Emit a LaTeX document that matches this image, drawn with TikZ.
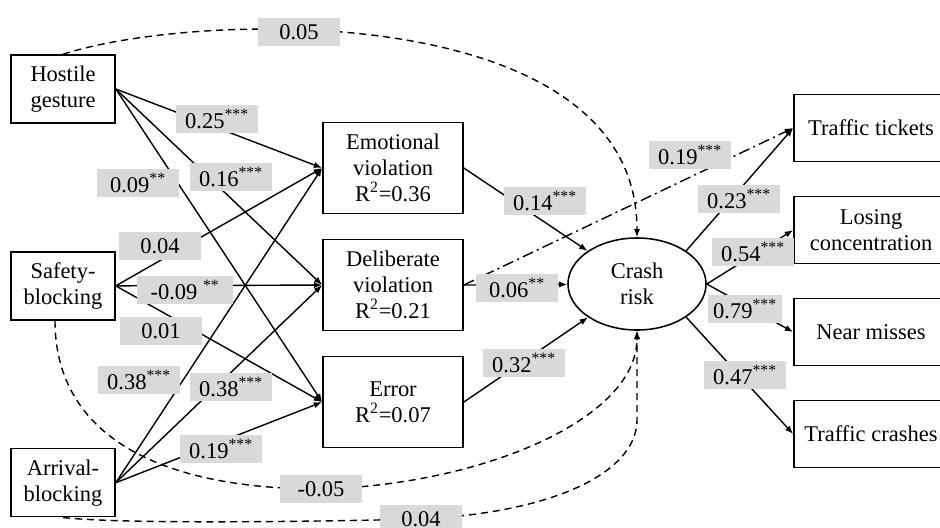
\documentclass[tikz,border=0pt]{standalone}
\usepackage{fontspec}
\setmainfont{Liberation Serif}
\usetikzlibrary{arrows.meta, positioning, shapes.geometric}

\begin{document}
\begin{tikzpicture}[
    x=0.025cm, y=-0.025cm,
    font=\fontsize{16pt}{18.5pt}\selectfont,
    src/.style={rectangle, draw, line width=1.1pt, minimum width=2.6cm, minimum height=1.7cm, align=center, inner sep=2pt},
    med/.style={rectangle, draw, line width=1.1pt, minimum width=3.5cm, minimum height=2.275cm, align=center, inner sep=2pt},
    outc/.style={rectangle, draw, line width=1.1pt, minimum width=3.85cm, minimum height=1.675cm, align=center, inner sep=2pt},
    coef/.style={rectangle, fill=gray!30, minimum width=2.05cm, minimum height=0.72cm, inner sep=1pt},
    link/.style={line width=1pt, -{Latex[length=6pt, width=4.5pt]}},
    cov/.style={link, dash pattern=on 5pt off 3.5pt},
    spill/.style={link, dash pattern=on 8pt off 3pt on 1.5pt off 3pt}
]
    \useasboundingbox (0,0) rectangle (940,527);

    % predictors
    \node[src] (hg) at (63,89) {Hostile\\gesture};
    \node[src, below of=hg, node distance=4.92cm] (sb) {Safety-\\blocking};
    \node[src, below of=sb, node distance=4.92cm] (ab) {Arrival-\\blocking};

    % mediators
    \node[med] (ev) at (393,168) {Emotional\\violation\\R\textsuperscript{2}=0.36};
    \node[med, below of=ev, node distance=2.925cm] (dv) {Deliberate\\violation\\R\textsuperscript{2}=0.21};
    \node[med, below of=dv, node distance=2.925cm] (er) {Error\\R\textsuperscript{2}=0.07};

    % crash risk and outcomes
    \node[ellipse, draw, line width=1.1pt, minimum width=3.45cm, minimum height=2.3cm, align=center, inner sep=1pt] (cr) at (637,284) {Crash\\risk};
    \node[outc] (tt) at (871,128) {Traffic tickets};
    \node[outc, below of=tt, node distance=2.55cm] (lc) {Losing\\concentration};
    \node[outc, below of=lc, node distance=2.55cm] (nm) {Near misses};
    \node[outc, below of=nm, node distance=2.55cm] (tc) {Traffic crashes};

    % direct paths
    \foreach \s in {hg, sb, ab}
        \foreach \m in {ev, dv, er}
            \draw[link] (\s.east) -- (\m.west);
    \foreach \m in {ev, dv, er}
        \draw[link] (\m.east) -- (cr);
    \draw[link] (cr.34) -- (tt.west);
    \draw[link] (cr.east) -- (lc.west);
    \draw[link] (cr.east) -- (nm.west);
    \draw[link] (cr.-34) -- (tc.west);
    \draw[spill] (dv.east) -- (tt.west);

    % covariate paths
    \draw[cov] (hg.north) .. controls (200,10) and (637,0) .. (cr.north);
    \draw[cov] ([xshift=-0.2cm]sb.south) .. controls (55,430) and (150,489) .. (321,489)
        .. controls (480,485) and (637,420) .. (cr.south);
    \draw[cov] (ab.south) .. controls (120,524) and (300,522) .. (421,519)
        .. controls (560,512) and (637,470) .. (637,420) -- (cr.south);

    % coefficients
    \node[coef] at (299,32) {0.05};
    \node[coef] at (217,119) {0.25\textsuperscript{***}};
    \node[coef] at (231,177) {0.16\textsuperscript{***}};
    \node[coef] at (138,183) {0.09\textsuperscript{**}};
    \node[coef] at (160,246) {0.04};
    \node[coef, minimum width=2.42cm] at (185,290) {-0.09 \textsuperscript{**}};
    \node[coef] at (161,331) {0.01};
    \node[coef] at (139,380) {0.38\textsuperscript{***}};
    \node[coef] at (231,387) {0.38\textsuperscript{***}};
    \node[coef] at (221,449) {0.19\textsuperscript{***}};
    \node[coef] at (321,489) {-0.05};
    \node[coef] at (421,519) {0.04};
    \node[coef] at (545,201) {0.14\textsuperscript{***}};
    \node[coef] at (517,288) {0.06\textsuperscript{**}};
    \node[coef] at (524,363) {0.32\textsuperscript{***}};
    \node[coef] at (690,155) {0.19\textsuperscript{***}};
    \node[coef] at (739,199) {0.23\textsuperscript{***}};
    \node[coef] at (753,252) {0.54\textsuperscript{***}};
    \node[coef, minimum width=1.85cm] at (745,309) {0.79\textsuperscript{***}};
    \node[coef] at (745,375) {0.47\textsuperscript{***}};
\end{tikzpicture}
\end{document}
